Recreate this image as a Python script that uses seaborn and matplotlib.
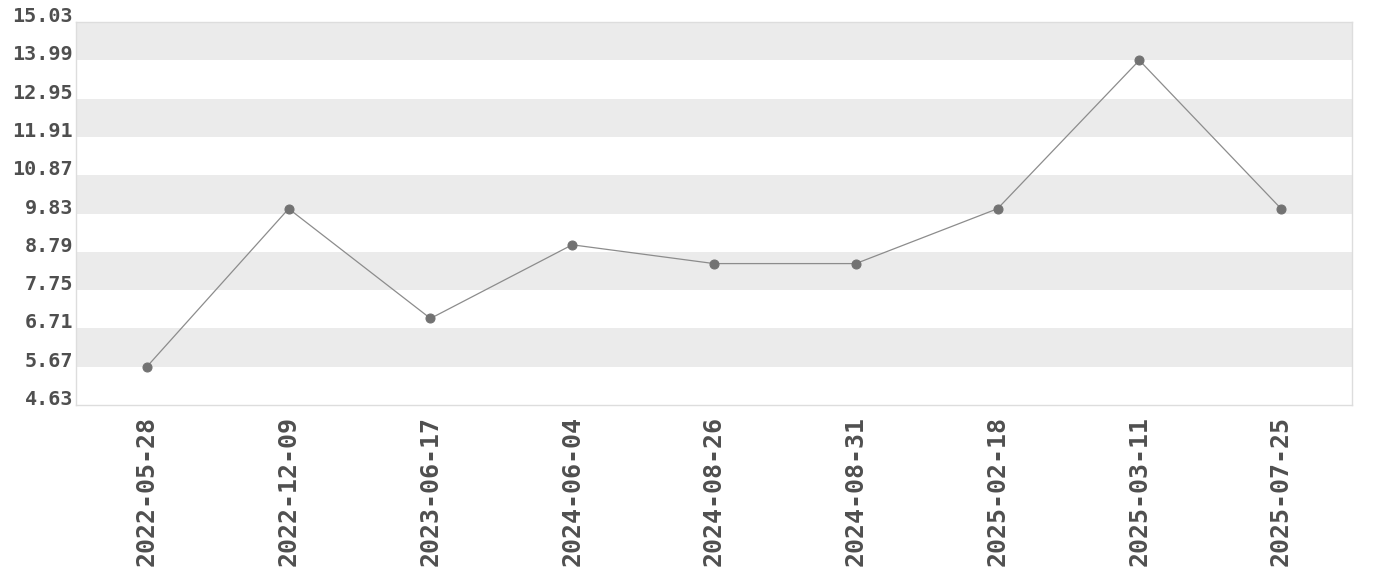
import numpy as np
import pandas as pd
import matplotlib.pyplot as plt
import seaborn as sns

dates = ["2022-05-28", "2022-12-09", "2023-06-17", "2024-06-04", "2024-08-26",
         "2024-08-31", "2025-02-18", "2025-03-11", "2025-07-25"]
values = [5.67, 9.96, 6.98, 8.98, 8.47, 8.47, 9.96, 13.99, 9.96]

df = pd.DataFrame({"date": dates, "value": values})

sns.set_style("white")
plt.rcParams["font.family"] = ["DejaVu Sans Mono", "DejaVu Sans"]

fig = plt.figure(figsize=(13.8, 5.8), dpi=100)
ax = fig.add_axes([76 / 1380, 1 - 405 / 580, (1352 - 76) / 1380, (405 - 22) / 580])

# y ticks: one step below min to one step above max, 8 steps across the data range
vmin, vmax = min(values), max(values)
step = (vmax - vmin) / 8
ticks = [vmin - step + i * step for i in range(11)]

# alternating grey bands
for i in range(1, 10, 2):
    ax.axhspan(ticks[i], ticks[i + 1], color="#ebebeb", lw=0, zorder=0)

sns.lineplot(
    data=df, x="date", y="value", sort=False, ax=ax,
    color="#8c8c8c", linewidth=0.9,
    marker="o", markersize=6.5, markerfacecolor="#727272", markeredgecolor="#727272",
    zorder=3,
)

ax.set_xlim(-0.5, len(dates) - 0.5)
ax.set_ylim(ticks[0], ticks[-1])
ax.set_yticks(ticks)
ax.set_yticklabels([f"{t:.2f}" for t in ticks])
ax.set_xlabel("")
ax.set_ylabel("")

ax.tick_params(axis="y", length=0, pad=2, labelsize=14.5, labelcolor="#4f4f4f")
ax.tick_params(axis="x", length=0, pad=8, labelsize=18, labelcolor="#4f4f4f",
               labelrotation=90)
for lbl in ax.get_yticklabels():
    lbl.set_fontweight("bold")
    lbl.set_va("baseline")
for lbl in ax.get_xticklabels():
    lbl.set_fontweight("bold")

for s in ax.spines.values():
    s.set_color("#dddddd")
    s.set_linewidth(1)

fig.savefig("out.png", dpi=100)
